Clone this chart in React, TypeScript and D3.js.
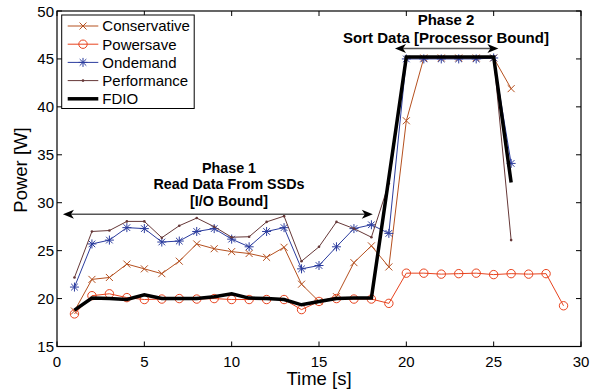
import React from 'react'
import * as d3 from 'd3'

const W = 601
const H = 390

const times = d3.range(1, 27)
const powersaveTimes = d3.range(1, 30)

const conservative = [18.7, 22.0, 22.2, 23.6, 23.1, 22.6, 23.9, 25.7, 25.2, 24.9, 24.7, 24.3, 25.35, 21.5, 19.7, 20.2, 23.75, 25.5, 23.3, 38.55, 45.1, 45.1, 45.1, 45.1, 45.1, 41.9]
const powersave = [18.4, 20.3, 20.5, 20.1, 19.9, 19.95, 20.0, 19.95, 20.0, 19.9, 19.9, 19.9, 19.9, 18.85, 19.7, 20.0, 19.95, 19.95, 19.5, 22.65, 22.65, 22.55, 22.6, 22.65, 22.5, 22.6, 22.55, 22.6, 19.25]
const ondemand = [21.2, 25.7, 26.1, 27.4, 27.3, 25.9, 26.0, 27.0, 27.3, 26.2, 25.4, 27.0, 27.4, 23.1, 23.45, 25.4, 27.3, 27.7, 26.8, 45.0, 45.0, 45.0, 45.0, 45.0, 45.1, 34.1]
const performance = [22.2, 27.0, 27.1, 28.05, 28.05, 26.35, 27.6, 28.4, 27.5, 26.4, 26.45, 28.0, 28.6, 23.9, 25.4, 28.0, 27.3, 26.4, 32.0, 45.2, 45.2, 45.2, 45.2, 45.2, 45.2, 26.1]
const fdio = [18.8, 20.05, 20.0, 19.9, 20.4, 20.0, 20.0, 20.0, 20.2, 20.5, 20.05, 20.0, 19.9, 19.35, 19.7, 20.0, 20.05, 20.05, 32.6, 45.2, 45.2, 45.2, 45.2, 45.2, 45.2, 32.1]

const xTicks = [0, 5, 10, 15, 20, 25, 30]
const yTicks = [15, 20, 25, 30, 35, 40, 45, 50]

const phase1Lines = ['Phase 1', 'Read Data From SSDs', '[I/O Bound]']
const phase2Lines = ['Phase 2', 'Sort Data [Processor Bound]']

type Series = { name: string, xs: number[], ys: number[], color: string, width: number, marker: string }

const series: Series[] = [
  { name: 'Conservative', xs: times, ys: conservative, color: '#b5501f', width: 1, marker: 'x' },
  { name: 'Powersave', xs: powersaveTimes, ys: powersave, color: '#e8431e', width: 1, marker: 'o' },
  { name: 'Ondemand', xs: times, ys: ondemand, color: '#2b3c9e', width: 1, marker: '*' },
  { name: 'Performance', xs: times, ys: performance, color: '#663838', width: 1, marker: '.' },
  { name: 'FDIO', xs: times, ys: fdio, color: '#000', width: 3.5, marker: '' },
]

const FONT = '"Liberation Sans", Arial, Helvetica, sans-serif'

const Marker = ({ type, x, y, color }: { type: string, x: number, y: number, color: string }) => {
  if (type === 'x') {
    const s = 3.5
    return <path d={`M${x - s},${y - s}L${x + s},${y + s}M${x - s},${y + s}L${x + s},${y - s}`} stroke={color} strokeWidth={1} />
  }
  if (type === 'o') return <circle cx={x} cy={y} r={4.2} fill="none" stroke={color} strokeWidth={1} />
  if (type === '*') {
    const s = 4.5, d = 3.3
    return <path d={`M${x - s},${y}L${x + s},${y}M${x},${y - s}L${x},${y + s}M${x - d},${y - d}L${x + d},${y + d}M${x - d},${y + d}L${x + d},${y - d}`} stroke={color} strokeWidth={1} />
  }
  if (type === '.') return <circle cx={x} cy={y} r={1.3} fill={color} />
  return null
}

// notched arrow head, tip at (x, y), dir +1 right / -1 left
const head = (x: number, y: number, dir: number) => {
  const L = 11, w = 4.5, n = 3
  return `M${x},${y}L${x - dir * L},${y - w}L${x - dir * (L - n)},${y}L${x - dir * L},${y + w}Z`
}

const DoubleArrow = ({ x1, x2, y }: { x1: number, x2: number, y: number }) => (
  <g>
    <line x1={x1 + 6} x2={x2 - 6} y1={y} y2={y} stroke="#555" strokeWidth={1.5} />
    <path d={head(x1, y, -1)} fill="#000" />
    <path d={head(x2, y, 1)} fill="#000" />
  </g>
)

const App = () => {
  const left = 57, right = 581, top = 11, bottom = 346.5

  const x = d3.scaleLinear().domain([0, 30]).range([left, right])
  const y = d3.scaleLinear().domain([15, 50]).range([bottom, top])

  const line = d3.line<[number, number]>().x(d => x(d[0])).y(d => y(d[1]))

  const tickLen = 5
  const legend = { x: 61.7, y: 15, w: 132.5, h: 93.5 }

  return (
    <svg width={W} height={H} style={{ position: 'absolute', left: 0, top: 0, background: '#fff' }} fontFamily={FONT}>
      <rect x={0} y={0} width={W} height={H} fill="#fff" />

      {series.map(s => {
        const pts = s.xs.map((t, i) => [t, s.ys[i]] as [number, number])
        return (
          <g key={s.name}>
            <path d={line(pts) || ''} fill="none" stroke={s.color} strokeWidth={s.width} />
            {s.marker && pts.map((p, i) => <Marker key={i} type={s.marker} x={x(p[0])} y={y(p[1])} color={s.color} />)}
          </g>
        )
      })}

      {/* box + inward ticks on all sides */}
      <rect x={left} y={top} width={right - left} height={bottom - top} fill="none" stroke="#000" strokeWidth={1.2} />
      {xTicks.map(t => (
        <g key={'x' + t}>
          <line x1={x(t)} x2={x(t)} y1={bottom} y2={bottom - tickLen} stroke="#000" />
          <line x1={x(t)} x2={x(t)} y1={top} y2={top + tickLen} stroke="#000" />
          <text x={x(t)} y={366.5} textAnchor="middle" fontSize={15}>{t}</text>
        </g>
      ))}
      {yTicks.map(t => (
        <g key={'y' + t}>
          <line x1={left} x2={left + tickLen} y1={y(t)} y2={y(t)} stroke="#000" />
          <line x1={right} x2={right - tickLen} y1={y(t)} y2={y(t)} stroke="#000" />
          <text x={left - 3} y={y(t) + 5.5} textAnchor="end" fontSize={15}>{t}</text>
        </g>
      ))}
      <text x={(left + right) / 2} y={385} textAnchor="middle" fontSize={18.5}>Time [s]</text>
      <text transform={`translate(27,170) rotate(-90)`} textAnchor="middle" fontSize={18.5}>Power [W]</text>

      {/* phase annotations */}
      <DoubleArrow x1={x(0.34)} x2={x(18.08)} y={y(28.8)} />
      {phase1Lines.map((s, i) => (
        <text key={s} x={229} y={172.5 + i * 16.5} textAnchor="middle" fontSize={14.3} fontWeight="bold">{s}</text>
      ))}
      <DoubleArrow x1={x(19.35)} x2={x(25.27)} y={y(46.1)} />
      {phase2Lines.map((s, i) => (
        <text key={s} x={446} y={25 + i * 17.5} textAnchor="middle" fontSize={15} fontWeight="bold">{s}</text>
      ))}

      {/* legend */}
      <rect x={legend.x} y={legend.y} width={legend.w} height={legend.h} fill="#fff" stroke="#000" strokeWidth={1} />
      {series.map((s, i) => {
        const cy = 26 + i * 18.2
        return (
          <g key={'lg' + s.name}>
            <line x1={67.7} x2={98.3} y1={cy} y2={cy} stroke={s.color} strokeWidth={s.width} />
            {s.marker && <Marker type={s.marker} x={83} y={cy} color={s.color} />}
            <text x={102.3} y={cy + 5.3} fontSize={15}>{s.name}</text>
          </g>
        )
      })}
    </svg>
  )
}

export default App
